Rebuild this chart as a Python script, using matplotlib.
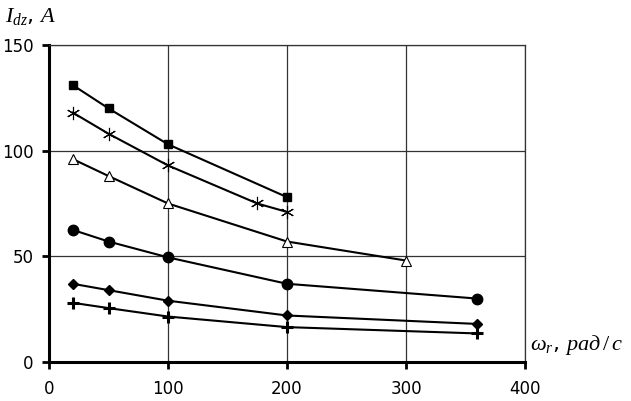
import matplotlib.pyplot as plt

plt.rcParams['mathtext.fontset'] = 'custom'
plt.rcParams['mathtext.it'] = 'Liberation Serif:italic'
plt.rcParams['mathtext.rm'] = 'Liberation Serif'

# data
x_sq = [20, 50, 100, 200]
y_sq = [131, 120, 103, 78]

x_star = [20, 50, 100, 175, 200]
y_star = [118, 108, 93, 75, 71]

x_tri = [20, 50, 100, 200, 300]
y_tri = [96, 88, 75, 57, 48]

x_circ = [20, 50, 100, 200, 360]
y_circ = [62.5, 57, 49.5, 37, 30]

x_dia = [20, 50, 100, 200, 360]
y_dia = [37, 34, 29, 22, 18]

x_plus = [20, 50, 100, 200, 360]
y_plus = [28, 25.5, 21.5, 16.5, 13.5]

xticks = [0, 100, 200, 300, 400]
yticks = [0, 50, 100, 150]

fig = plt.figure(figsize=(6.31, 4.01), dpi=100)
ax = fig.add_axes([0.0777, 0.0973, 0.7543, 0.7905])

ax.plot(x_sq, y_sq, color='black', lw=1.5, marker='s', ms=6, mfc='black')
ax.plot(x_star, y_star, color='black', lw=1.5, marker=(6, 2, 0), ms=9.5, mew=0.8)
ax.plot(x_tri, y_tri, color='black', lw=1.5, marker='^', ms=7, mfc='white', mew=0.8)
ax.plot(x_circ, y_circ, color='black', lw=1.5, marker='o', ms=7.5, mfc='black')
ax.plot(x_dia, y_dia, color='black', lw=1.5, marker='D', ms=5.5, mfc='black')
ax.plot(x_plus, y_plus, color='black', lw=1.5, marker='+', ms=9, mew=2.2)

ax.set_xlim(0, 400)
ax.set_ylim(0, 150)
ax.set_xticks(xticks)
ax.set_yticks(yticks)
ax.grid(True, color='#333333', lw=0.9)
ax.set_axisbelow(True)

for s in ['left', 'bottom']:
    ax.spines[s].set_linewidth(2.2)
for s in ['top', 'right']:
    ax.spines[s].set_linewidth(0.9)
    ax.spines[s].set_color('#333333')

ax.tick_params(direction='out', length=5, width=2, labelsize=12)
ax.tick_params(axis='y', pad=6)
ax.tick_params(axis='x', pad=8)

fig.text(0.008, 0.945, r'$I_{dz}$, $A$', fontsize=16, ha='left', va='baseline')
fig.text(0.84, 0.128, r'$\omega_r$, $рад\,/\,с$', fontsize=16, ha='left', va='baseline')

fig.savefig('out.png', dpi=100)
